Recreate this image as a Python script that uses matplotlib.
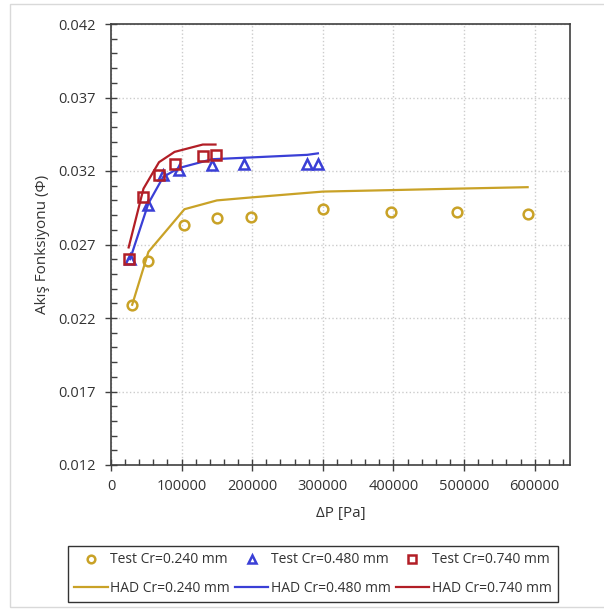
import matplotlib
matplotlib.use("Agg")
import matplotlib.pyplot as plt
from matplotlib.ticker import MultipleLocator, FixedLocator
from matplotlib.patches import Rectangle

plt.rcParams['font.family'] = ['Open Sans', 'DejaVu Sans']

# Test data
test_x_024 = [30000, 53000, 104000, 150000, 198000, 300000, 397000, 490000, 590000]
test_y_024 = [0.0229, 0.0259, 0.0283, 0.0288, 0.0289, 0.0294, 0.0292, 0.0292, 0.0291]
test_x_048 = [27000, 53000, 74000, 96000, 143000, 188000, 278000, 293000]
test_y_048 = [0.0260, 0.0297, 0.0317, 0.0321, 0.0324, 0.0325, 0.0325, 0.0325]
test_x_074 = [25000, 46000, 68000, 90000, 130000, 148000]
test_y_074 = [0.0260, 0.0302, 0.0317, 0.0325, 0.0330, 0.0331]

# HAD data
had_x_024 = [30000, 53000, 104000, 150000, 198000, 300000, 397000, 490000, 590000]
had_y_024 = [0.0229, 0.0265, 0.0294, 0.0300, 0.0302, 0.0306, 0.0307, 0.0308, 0.0309]
had_x_048 = [27000, 53000, 74000, 96000, 143000, 188000, 278000, 293000]
had_y_048 = [0.0260, 0.0298, 0.0316, 0.0322, 0.0328, 0.0329, 0.0331, 0.0332]
had_x_074 = [25000, 46000, 68000, 90000, 130000, 148000]
had_y_074 = [0.0268, 0.0308, 0.0326, 0.0333, 0.0338, 0.0338]

labels = ["Test Cr=0.240 mm", "Test Cr=0.480 mm", "Test Cr=0.740 mm",
          "HAD Cr=0.240 mm", "HAD Cr=0.480 mm", "HAD Cr=0.740 mm"]

c_y = '#C9A227'
c_b = '#3A3FD6'
c_r = '#B21E26'

fig = plt.figure(figsize=(6.04, 6.10), dpi=100)
ax = fig.add_axes([111/604, 1-465/610, (570-111)/604, (465-24)/610])

# outer light border
fig.patches.append(Rectangle((10/604, 3/610), 1.2, 1-7/610, transform=fig.transFigure,
                             fill=False, edgecolor='#D9D9D9', linewidth=1.0))

l1, = ax.plot(had_x_024, had_y_024, color=c_y, lw=1.6)
l2, = ax.plot(had_x_048, had_y_048, color=c_b, lw=1.6)
l3, = ax.plot(had_x_074, had_y_074, color=c_r, lw=1.6)
m1, = ax.plot(test_x_024, test_y_024, 'o', ms=7, mfc='none', mec=c_y, mew=1.8, ls='none')
m2, = ax.plot(test_x_048, test_y_048, '^', ms=7, mfc='none', mec=c_b, mew=1.8, ls='none')
m3, = ax.plot(test_x_074, test_y_074, 's', ms=7, mfc='none', mec=c_r, mew=1.8, ls='none')

ax.set_xlim(0, 650000)
ax.set_ylim(0.012, 0.042)
ax.xaxis.set_major_locator(FixedLocator([0, 100000, 200000, 300000, 400000, 500000, 600000]))
ax.xaxis.set_minor_locator(MultipleLocator(20000))
ax.yaxis.set_major_locator(FixedLocator([0.012, 0.017, 0.022, 0.027, 0.032, 0.037, 0.042]))
ax.yaxis.set_minor_locator(MultipleLocator(0.001))
ax.set_yticklabels(['0.012', '0.017', '0.022', '0.027', '0.032', '0.037', '0.042'])
ax.set_xticklabels(['0', '100000', '200000', '300000', '400000', '500000', '600000'])
ax.tick_params(which='major', direction='inout', length=8, width=1, color='#404040',
               labelsize=10.5, labelcolor='#333333')
ax.tick_params(axis='y', which='major', pad=7)
ax.tick_params(axis='x', which='major', pad=6)
ax.tick_params(which='minor', direction='in', length=4, width=1, color='#404040')
ax.grid(True, which='major', ls=':', color='#CCCCCC', lw=1)
ax.set_axisbelow(True)
for s in ax.spines.values():
    s.set_color('#404040')
    s.set_linewidth(1.2)

ax.set_xlabel('ΔP [Pa]', fontsize=11, color='#333333', labelpad=9)
ax.set_ylabel('Akış Fonksiyonu (Φ)', fontsize=11, color='#333333', labelpad=6)

order_h = [m1, l1, m2, l2, m3, l3]
order_l = [labels[0], labels[3], labels[1], labels[4], labels[2], labels[5]]
leg = fig.legend(order_h, order_l, ncol=3, loc='center',
                 bbox_to_anchor=(313/604, 1-574/610), fontsize=10, frameon=True,
                 fancybox=False, edgecolor='black', handlelength=2.4,
                 columnspacing=0.35, handletextpad=0.2, borderpad=0.45, labelspacing=0.95,
                 borderaxespad=0)
leg.get_frame().set_linewidth(1.0)
for h in leg.legend_handles:
    h.set_markersize(5.5)
for t in leg.get_texts():
    t.set_color('#333333')

fig.savefig('out.png', dpi=100)
